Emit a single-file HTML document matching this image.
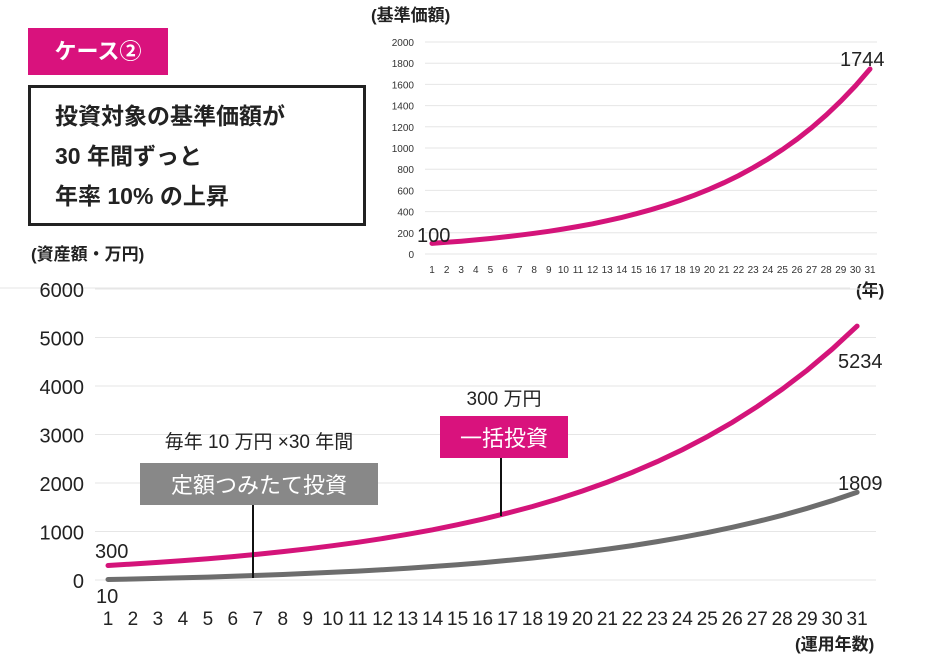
<!DOCTYPE html>
<html><head><meta charset="utf-8"><style>
body{margin:0;width:932px;height:666px;background:#fff;overflow:hidden;font-family:"Liberation Sans","Noto Sans CJK JP",sans-serif;}
svg{position:absolute;left:0;top:0}
</style></head><body>
<svg width="932" height="666" viewBox="0 0 932 666" font-family="Liberation Sans, Noto Sans CJK JP, sans-serif">
<rect x="28" y="28" width="140" height="47" fill="#d9127d"/>
<text x="98" y="59" fill="#fff" font-size="22" font-weight="bold" text-anchor="middle">ケース②</text>
<rect x="29.5" y="86.5" width="335" height="138" fill="#fff" stroke="#222" stroke-width="3"/>
<g font-size="23" fill="#222" font-weight="bold">
<text x="55" y="124">投資対象の基準価額が</text>
<text x="55" y="164">30 年間ずっと</text>
<text x="55" y="204">年率 10% の上昇</text>
</g>
<text x="371" y="21" font-size="17" fill="#222" font-weight="bold">(基準価額)</text>
<g id="tg" stroke="#e6e6e6" stroke-width="1"></g>
<g id="tyl" font-size="10" fill="#333" text-anchor="end"></g>
<g id="txl" font-size="10" fill="#333" text-anchor="middle"></g>
<path id="tp" fill="none" stroke="#d4147a" stroke-width="5" stroke-linecap="round"/>
<text x="417" y="242" font-size="20" fill="#222">100</text>
<text x="840" y="66" font-size="20" fill="#222">1744</text>
<text x="856" y="296" font-size="17" fill="#222" font-weight="bold">(年)</text>
<line x1="0" y1="288" x2="850" y2="288" stroke="#e6e6e6"/>
<text x="31" y="260" font-size="17" fill="#222" font-weight="bold">(資産額・万円)</text>
<g id="bg" stroke="#e6e6e6" stroke-width="1"></g>
<g id="byl" font-size="20" fill="#222" text-anchor="end"></g>
<g id="bxl" font-size="19" fill="#222" text-anchor="middle"></g>
<path id="gp" fill="none" stroke="#6d6d6d" stroke-width="5" stroke-linecap="round"/>
<path id="pp" fill="none" stroke="#d4147a" stroke-width="5" stroke-linecap="round"/>
<line x1="253" y1="503" x2="253" y2="578" stroke="#111" stroke-width="2"/>
<line x1="501" y1="456" x2="501" y2="516" stroke="#111" stroke-width="2"/>
<rect x="140" y="463" width="238" height="42" fill="#888"/>
<text x="259" y="493" font-size="22" fill="#fff" text-anchor="middle">定額つみたて投資</text>
<text x="259" y="448" font-size="19" fill="#222" text-anchor="middle">毎年 10 万円 ×30 年間</text>
<rect x="440" y="416" width="128" height="42" fill="#d9127d"/>
<text x="504" y="446" font-size="22" fill="#fff" text-anchor="middle">一括投資</text>
<text x="504" y="405" font-size="19" fill="#222" text-anchor="middle">300 万円</text>
<text x="95" y="558" font-size="20" fill="#222">300</text>
<text x="96" y="603" font-size="20" fill="#222">10</text>
<text x="838" y="368" font-size="20" fill="#222">5234</text>
<text x="838" y="490" font-size="20" fill="#222">1809</text>
<text x="795" y="650" font-size="17" fill="#222" font-weight="bold">(運用年数)</text>
</svg>
<script>
const NS="http://www.w3.org/2000/svg";
function el(p,t,a,txt){const e=document.createElementNS(NS,t);for(const k in a)e.setAttribute(k,a[k]);if(txt!==undefined)e.textContent=txt;document.getElementById(p).appendChild(e);}
// top chart
const tx=n=>432+(n-1)*14.6, ty=v=>254-v*0.106;
for(let v=0;v<=2000;v+=200){el("tg","line",{x1:425,x2:877,y1:ty(v),y2:ty(v)});el("tyl","text",{x:414,y:ty(v)+4},v);}
for(let n=1;n<=31;n++)el("txl","text",{x:tx(n),y:273},n);
let d="";for(let n=1;n<=31;n++){const v=100*Math.pow(1.1,n-1);d+=(n==1?"M":"L")+tx(n).toFixed(1)+" "+ty(v).toFixed(1);}
document.getElementById("tp").setAttribute("d",d);
// bottom chart
const bx=n=>108+(n-1)*24.97, by=v=>580-v*0.0485;
for(let v=0;v<=6000;v+=1000){el("bg","line",{x1:95,x2:876,y1:by(v),y2:by(v)});el("byl","text",{x:84,y:by(v)+8},v);}
for(let n=1;n<=31;n++)el("bxl","text",{x:bx(n),y:625},n);
let p="",g="";for(let n=1;n<=31;n++){const v=300*Math.pow(1.1,n-1);p+=(n==1?"M":"L")+bx(n).toFixed(1)+" "+by(v).toFixed(1);
let s=0;for(let k=0;k<n;k++)s=s*1.1+10;const w=10+(s-10)*(1799/(1819.4-10));g+=(n==1?"M":"L")+bx(n).toFixed(1)+" "+by(w).toFixed(1);}
document.getElementById("pp").setAttribute("d",p);document.getElementById("gp").setAttribute("d",g);
</script>
</body></html>
